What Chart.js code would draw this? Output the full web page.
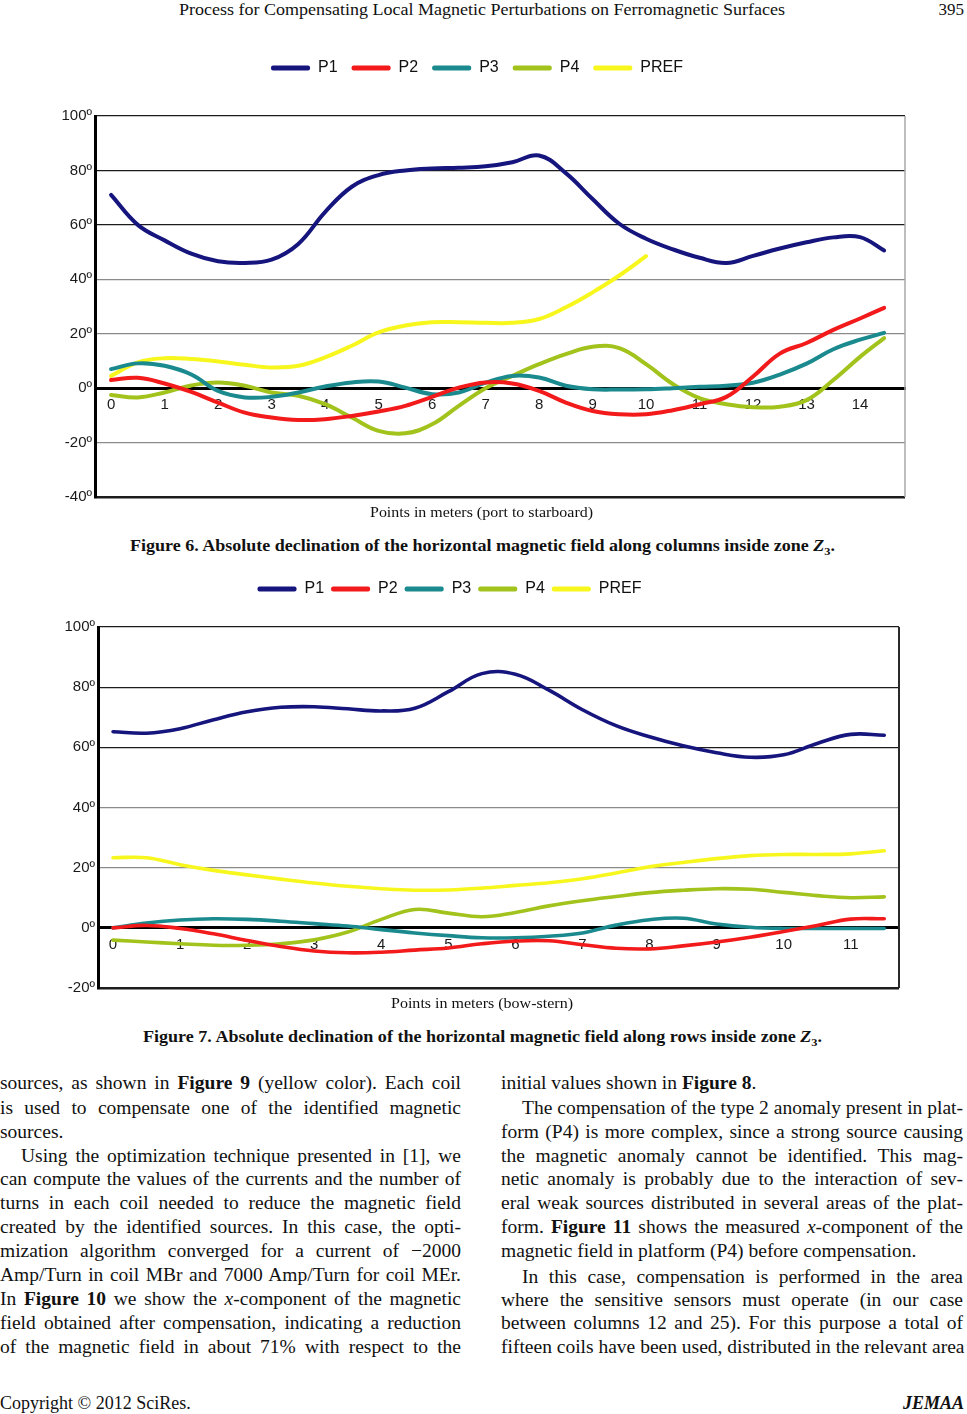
<!DOCTYPE html>
<html>
<head>
<meta charset="utf-8">
<script src="https://cdn.jsdelivr.net/npm/chart.js@4.4.1/dist/chart.umd.min.js"></script>
<style>
  html, body { margin: 0; padding: 0; background: #fff; }
  body { position: relative; width: 967px; height: 1414px; overflow: hidden; color: #111;
         font-family: 'Liberation Serif', 'Times New Roman', serif; }
  .box { position: absolute; }
  .t { position: absolute; white-space: nowrap; line-height: 24px; transform-origin: 0 50%; }
  .j { position: absolute; white-space: nowrap; line-height: 24px; font-size: 19.5px;
       text-align: justify; text-align-last: justify; transform-origin: 0 50%; }
  .l { text-align-last: left; }
  .ind { text-indent: 21px; }
</style>
</head>
<body>

<div class="t" id="cabecalho" data-w="606" style="left:179px; top:-2px; font-size:17px;">Process for Compensating Local Magnetic Perturbations on Ferromagnetic Surfaces</div>
<div class="t" style="right:3px; top:-2px; font-size:17px;">395</div>

<div class="box" style="left:0; top:40px; width:967px; height:470px;"><canvas id="fig6"></canvas></div>
<div class="t" data-w="223" style="left:370px; top:500px; font-size:15px;">Points in meters (port to starboard)</div>
<div class="t" data-w="705" style="left:130px; top:534px; font-size:16px; font-weight:bold;">Figure 6. Absolute declination of the horizontal magnetic field along columns inside zone <i>Z</i><sub style="font-size:11px">3</sub>.</div>

<div class="box" style="left:0; top:560px; width:967px; height:440px;"><canvas id="fig7"></canvas></div>
<div class="t" data-w="182" style="left:391px; top:991px; font-size:15px;">Points in meters (bow-stern)</div>
<div class="t" data-w="679" style="left:143px; top:1025px; font-size:16px; font-weight:bold;">Figure 7. Absolute declination of the horizontal magnetic field along rows inside zone <i>Z</i><sub style="font-size:11px">3</sub>.</div>

<!-- coluna esquerda -->
<div class="j" style="left:0; width:461px; top:1071px;">sources, as shown in <b>Figure 9</b> (yellow color). Each coil</div>
<div class="j" style="left:0; width:461px; top:1096px;">is used to compensate one of the identified magnetic</div>
<div class="j l" style="left:0; width:461px; top:1120px;">sources.</div>
<div class="j ind" style="left:0; width:461px; top:1144px;">Using the optimization technique presented in [1], we</div>
<div class="j" style="left:0; width:461px; top:1167px;">can compute the values of the currents and the number of</div>
<div class="j" style="left:0; width:461px; top:1191px;">turns in each coil needed to reduce the magnetic field</div>
<div class="j" style="left:0; width:461px; top:1215px;">created by the identified sources. In this case, the opti-</div>
<div class="j" style="left:0; width:461px; top:1239px;">mization algorithm converged for a current of −2000</div>
<div class="j" style="left:0; width:461px; top:1263px;">Amp/Turn in coil MBr and 7000 Amp/Turn for coil MEr.</div>
<div class="j" style="left:0; width:461px; top:1287px;">In <b>Figure 10</b> we show the <i>x</i>-component of the magnetic</div>
<div class="j" style="left:0; width:461px; top:1311px;">field obtained after compensation, indicating a reduction</div>
<div class="j" style="left:0; width:461px; top:1335px;">of the magnetic field in about 71% with respect to the</div>

<!-- coluna direita -->
<div class="j l" style="left:501px; width:462px; top:1071px;">initial values shown in <b>Figure 8</b>.</div>
<div class="j ind" style="left:501px; width:462px; top:1096px;">The compensation of the type 2 anomaly present in plat-</div>
<div class="j" style="left:501px; width:462px; top:1120px;">form (P4) is more complex, since a strong source causing</div>
<div class="j" style="left:501px; width:462px; top:1144px;">the magnetic anomaly cannot be identified. This mag-</div>
<div class="j" style="left:501px; width:462px; top:1167px;">netic anomaly is probably due to the interaction of sev-</div>
<div class="j" style="left:501px; width:462px; top:1191px;">eral weak sources distributed in several areas of the plat-</div>
<div class="j" style="left:501px; width:462px; top:1215px;">form. <b>Figure 11</b> shows the measured <i>x</i>-component of the</div>
<div class="j l" style="left:501px; width:462px; top:1239px;">magnetic field in platform (P4) before compensation.</div>
<div class="j ind" style="left:501px; width:462px; top:1265px;">In this case, compensation is performed in the area</div>
<div class="j" style="left:501px; width:462px; top:1288px;">where the sensitive sensors must operate (in our case</div>
<div class="j" style="left:501px; width:462px; top:1311px;">between columns 12 and 25). For this purpose a total of</div>
<div class="j" style="left:501px; width:462px; top:1335px;">fifteen coils have been used, distributed in the relevant area</div>

<div class="t" style="left:0; top:1391px; font-size:18px;">Copyright © 2012 SciRes.</div>
<div class="t" style="right:3px; top:1391px; font-size:18px; font-weight:bold; font-style:italic;">JEMAA</div>

<script>
// Figura 6 - pontos em metros (bombordo a estibordo)
const fig6X = [0, 0.5, 1, 1.5, 2, 2.5, 3, 3.5, 4, 4.5, 5, 5.5, 6, 6.5, 7, 7.5, 8, 8.5, 9, 9.5, 10, 10.5, 11, 11.5, 12, 12.5, 13, 13.5, 14, 14.45];
const fig6P1 = [71, 60, 54.3, 49.4, 46.6, 46, 47.2, 53, 64.7, 74, 78.3, 80, 80.7, 81, 81.5, 83, 85.5, 79, 69.5, 60.4, 54.9, 51, 47.9, 46, 48.6, 51.3, 53.6, 55.4, 55.5, 50.6];
const fig6P2 = [3, 3.8, 1.7, -1.4, -5.3, -9, -10.8, -11.7, -11.4, -10.2, -8.6, -6.5, -3.2, 0.2, 2.1, 1.7, -1, -5.3, -8.4, -9.6, -9.6, -8.1, -5.9, -3.2, 4.3, 12.7, 16.6, 21.4, 25.6, 29.5];
const fig6P3 = [7, 9.1, 8.2, 5, -1, -3.4, -3.2, -1.6, 0.6, 2.1, 2.4, 0.2, -2.2, -1.6, 2, 4.5, 3.9, 0.9, -0.4, -0.5, -0.4, 0, 0.5, 0.9, 2, 5, 9, 14.3, 17.8, 20.3];
const fig6P4 = [-2.5, -3.4, -1.6, 1, 2.1, 0.9, -1.6, -2.8, -5.9, -10.8, -15.7, -16.6, -13.3, -6.5, 0, 4.5, 8.8, 12.5, 15.2, 14.7, 8.8, 1.5, -3.7, -5.9, -7, -6.8, -4.4, 3, 11.5, 18.4];
const fig6PREF = [4.5, 9.5, 11, 10.7, 9.8, 8.6, 7.6, 8.2, 11.3, 15.6, 20.5, 23, 24.2, 24.2, 24, 24, 25.4, 29.7, 35.2, 41.4, 48.5];
const fig6XTicks = [0, 1, 2, 3, 4, 5, 6, 7, 8, 9, 10, 11, 12, 13, 14];
const fig6YTicks = [-40, -20, 0, 20, 40, 60, 80, 100];

// Figura 7 - pontos em metros (proa-popa)
const fig7X = [0, 0.5, 1, 1.5, 2, 2.5, 3, 3.5, 4, 4.5, 5, 5.5, 6, 6.5, 7, 7.5, 8, 8.5, 9, 9.5, 10, 10.5, 11, 11.5];
const fig7P1 = [65.2, 64.7, 66.2, 69.2, 71.8, 73.3, 73.5, 72.8, 72.1, 73, 78.5, 84.5, 84.3, 79, 72.5, 67.2, 63.5, 60.5, 58.2, 56.7, 57.5, 61.3, 64.3, 64];
const fig7P2 = [0, 0.8, -0.2, -2, -4.2, -6.2, -7.7, -8.3, -8.1, -7.4, -6.7, -5.3, -4.4, -4.3, -5.6, -6.8, -7, -6, -4.7, -3.1, -1.2, 0.8, 2.9, 3];
const fig7P3 = [0, 1.6, 2.6, 3, 2.8, 2.2, 1.4, 0.6, -0.6, -1.7, -2.6, -3.3, -3.3, -2.8, -1.7, 0.9, 2.7, 3.2, 1.3, 0.2, -0.2, -0.2, -0.2, -0.2];
const fig7P4 = [-4.1, -4.7, -5.3, -5.8, -5.8, -5.3, -4, -1.4, 2.8, 6.1, 4.9, 3.7, 5.1, 7.3, 9, 10.4, 11.7, 12.5, 13, 12.8, 11.8, 10.7, 10, 10.3];
const fig7PREF = [23.3, 23.3, 21, 19.1, 17.6, 16.2, 14.9, 13.8, 13, 12.5, 12.6, 13.2, 14.1, 15, 16.3, 18.2, 20.3, 21.7, 23, 24, 24.4, 24.4, 24.6, 25.6];
const fig7XTicks = [0, 1, 2, 3, 4, 5, 6, 7, 8, 9, 10, 11];
const fig7YTicks = [-20, 0, 20, 40, 60, 80, 100];

const seriesNames = ['P1', 'P2', 'P3', 'P4', 'PREF'];
const seriesColors = ['#15157d', '#f21a1a', '#1b8a8e', '#a2c21c', '#f7f71e'];

Chart.defaults.font.family = "'Liberation Sans', Arial, sans-serif";
Chart.defaults.color = '#1a1a1a';

// empurra o grafico para baixo da legenda
function legendGap(extra) {
    return {
        id: 'legendGap',
        beforeInit(chart) {
            const fitOriginal = chart.legend.fit;
            chart.legend.fit = function () {
                fitOriginal.bind(chart.legend)();
                this.height += extra;
            };
        }
    };
}

// borda direita da area do grafico
function rightBorder(color, width) {
    return {
        id: 'rightBorder',
        beforeDatasetsDraw(chart) {
            const { ctx, chartArea } = chart;
            ctx.save();
            ctx.strokeStyle = color;
            ctx.lineWidth = width;
            ctx.beginPath();
            ctx.moveTo(chartArea.right, chartArea.top);
            ctx.lineTo(chartArea.right, chartArea.bottom);
            ctx.stroke();
            ctx.restore();
        }
    };
}

function criarFigura(id, cfg) {
    const datasets = cfg.series.map((valores, i) => ({
        label: seriesNames[i],
        data: valores.map((y, k) => ({ x: cfg.xs[k], y: y })),
        borderColor: seriesColors[i],
        backgroundColor: seriesColors[i],
        borderWidth: cfg.lineWidth,
        borderCapStyle: 'round',
        pointRadius: 0,
        tension: 0.4,
        fill: false
    }));

    return new Chart(document.getElementById(id), {
        type: 'line',
        data: { datasets: datasets },
        options: {
            responsive: true,
            maintainAspectRatio: false,
            animation: false,
            layout: { padding: cfg.padding },
            plugins: {
                tooltip: { enabled: false },
                legend: {
                    display: true,
                    labels: {
                        boxWidth: 39,
                        boxHeight: 5,
                        padding: cfg.legendPadding,
                        font: { size: 16 },
                        color: '#111',
                        generateLabels: chart => Chart.defaults.plugins.legend.labels.generateLabels(chart)
                            .map(item => Object.assign(item, { lineWidth: 0, borderRadius: 2 }))
                    }
                }
            },
            scales: {
                x: {
                    type: 'linear',
                    position: { y: 0 },
                    min: cfg.xMin,
                    max: cfg.xMax,
                    afterBuildTicks: s => { s.ticks = cfg.xTicks.map(v => ({ value: v })); },
                    grid: { display: false, drawTicks: false },
                    border: { display: true, color: '#000', width: 3 },
                    ticks: { autoSkip: false, maxRotation: 0, padding: 8, font: { size: 15 }, color: '#1a1a1a' }
                },
                y: {
                    type: 'linear',
                    min: cfg.yTicks[0],
                    max: cfg.yTicks[cfg.yTicks.length - 1],
                    afterBuildTicks: s => { s.ticks = cfg.yTicks.map(v => ({ value: v })); },
                    afterFit: s => { s.width = cfg.yWidth; },
                    grid: {
                        drawTicks: false,
                        color: c => (c.index === 0 || c.tick.value >= 60) ? '#1c1c1c' : '#8a8a8a',
                        lineWidth: c => c.index === 0 ? 2.5 : 1.2
                    },
                    border: { display: true, color: '#000', width: 3 },
                    ticks: { padding: 3, font: { size: 15 }, color: '#1a1a1a', callback: v => v + 'º' }
                }
            }
        },
        plugins: [legendGap(cfg.gap), rightBorder(cfg.rightColor, cfg.rightWidth)]
    });
}

criarFigura('fig6', {
    xs: fig6X,
    series: [fig6P1, fig6P2, fig6P3, fig6P4, fig6PREF],
    xTicks: fig6XTicks, yTicks: fig6YTicks,
    xMin: -0.3, xMax: 14.84,
    lineWidth: 4,
    padding: { left: 49, right: 62, top: 6, bottom: 13 },
    yWidth: 46, legendPadding: 14, gap: 30,
    rightColor: '#a8a8a8', rightWidth: 1.5
});

criarFigura('fig7', {
    xs: fig7X,
    series: [fig7P1, fig7P2, fig7P3, fig7P4, fig7PREF],
    xTicks: fig7XTicks, yTicks: fig7YTicks,
    xMin: -0.224, xMax: 11.72,
    lineWidth: 3.6,
    padding: { left: 0, right: 68, top: 14, bottom: 12 },
    yWidth: 98, legendPadding: 7, gap: 20,
    rightColor: '#2a2a2a', rightWidth: 2
});

// ajusta as linhas de texto a largura da pagina
function ajustarTextos() {
    document.querySelectorAll('.t[data-w]').forEach(el => {
        const alvo = parseFloat(el.dataset.w);
        const natural = el.getBoundingClientRect().width;
        if (natural > 0) el.style.transform = 'scaleX(' + (alvo / natural) + ')';
    });
    document.querySelectorAll('.j').forEach(el => {
        const largura = el.clientWidth;
        const natural = el.scrollWidth;
        if (natural > largura + 1) {
            el.style.width = natural + 'px';
            el.style.transform = 'scaleX(' + (largura / natural) + ')';
        }
    });
}
ajustarTextos();
</script>
</body>
</html>
